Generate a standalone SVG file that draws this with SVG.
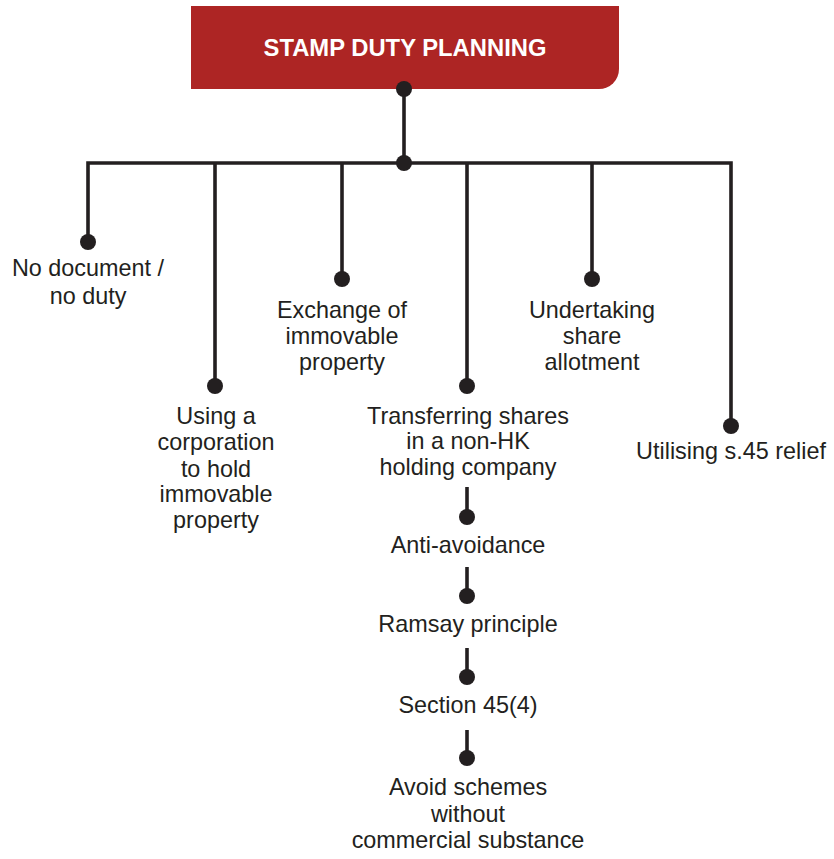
<svg xmlns="http://www.w3.org/2000/svg" width="834" height="859" viewBox="0 0 834 859">
  <style>
    .wire { fill: none; stroke: #231f20; stroke-width: 3.6; stroke-linecap: butt; stroke-linejoin: miter; }
    .dot { fill: #231f20; }
    .lbl { font-family: "Liberation Sans", Arial, sans-serif; font-size: 23.4px; fill: #231f20; text-anchor: middle; }
    .title { font-family: "Liberation Sans", Arial, sans-serif; font-size: 23.8px; font-weight: bold; fill: #ffffff; text-anchor: middle; }
  </style>
  <rect width="834" height="859" fill="#ffffff"/>

  <!-- header node -->
  <g id="root">
    <path d="M191 6 H619 V69 A20 20 0 0 1 599 89 H191 Z" fill="#ad2524"/>
    <text class="title" x="405" y="56">STAMP DUTY PLANNING</text>
  </g>

  <!-- connectors -->
  <g id="connectors">
    <path class="wire" d="M404 89 V163"/>
    <path class="wire" d="M88 242 V163 H731 V426"/>
    <path class="wire" d="M215 163 V386"/>
    <path class="wire" d="M342 163 V279"/>
    <path class="wire" d="M467 163 V386"/>
    <path class="wire" d="M592 163 V279"/>
    <path class="wire" d="M467 487 V517"/>
    <path class="wire" d="M467 567 V596"/>
    <path class="wire" d="M467 648 V677"/>
    <path class="wire" d="M467 730 V758"/>
    <circle class="dot" cx="404" cy="89" r="8"/>
    <circle class="dot" cx="404" cy="163" r="8"/>
    <circle class="dot" cx="88" cy="242" r="8"/>
    <circle class="dot" cx="215" cy="386" r="8"/>
    <circle class="dot" cx="342" cy="279" r="8"/>
    <circle class="dot" cx="467" cy="386" r="8"/>
    <circle class="dot" cx="592" cy="279" r="8"/>
    <circle class="dot" cx="731" cy="426" r="8"/>
    <circle class="dot" cx="467" cy="517" r="8"/>
    <circle class="dot" cx="467" cy="596" r="8"/>
    <circle class="dot" cx="467" cy="677" r="8"/>
    <circle class="dot" cx="467" cy="758" r="8"/>
  </g>

  <g id="no-document">
    <text class="lbl" x="88" y="276">No document /</text>
    <text class="lbl" x="88" y="304">no duty</text>
  </g>

  <g id="corporation">
    <text class="lbl" x="216" y="424">Using a</text>
    <text class="lbl" x="216" y="450">corporation</text>
    <text class="lbl" x="216" y="477">to hold</text>
    <text class="lbl" x="216" y="502">immovable</text>
    <text class="lbl" x="216" y="528">property</text>
  </g>

  <g id="exchange">
    <text class="lbl" x="342" y="318">Exchange of</text>
    <text class="lbl" x="342" y="344">immovable</text>
    <text class="lbl" x="342" y="370">property</text>
  </g>

  <g id="transferring">
    <text class="lbl" x="468" y="424">Transferring shares</text>
    <text class="lbl" x="468" y="449">in a non-HK</text>
    <text class="lbl" x="468" y="475">holding company</text>
  </g>

  <g id="undertaking">
    <text class="lbl" x="592" y="318">Undertaking</text>
    <text class="lbl" x="592" y="344">share</text>
    <text class="lbl" x="592" y="370">allotment</text>
  </g>

  <g id="s45-relief">
    <text class="lbl" x="731" y="459">Utilising s.45 relief</text>
  </g>

  <g id="anti-avoidance">
    <text class="lbl" x="468" y="553">Anti-avoidance</text>
  </g>

  <g id="ramsay">
    <text class="lbl" x="468" y="632">Ramsay principle</text>
  </g>

  <g id="section-45-4">
    <text class="lbl" x="468" y="713">Section 45(4)</text>
  </g>

  <g id="avoid-schemes">
    <text class="lbl" x="468" y="795">Avoid schemes</text>
    <text class="lbl" x="468" y="822">without</text>
    <text class="lbl" x="468" y="848">commercial substance</text>
  </g>
</svg>
